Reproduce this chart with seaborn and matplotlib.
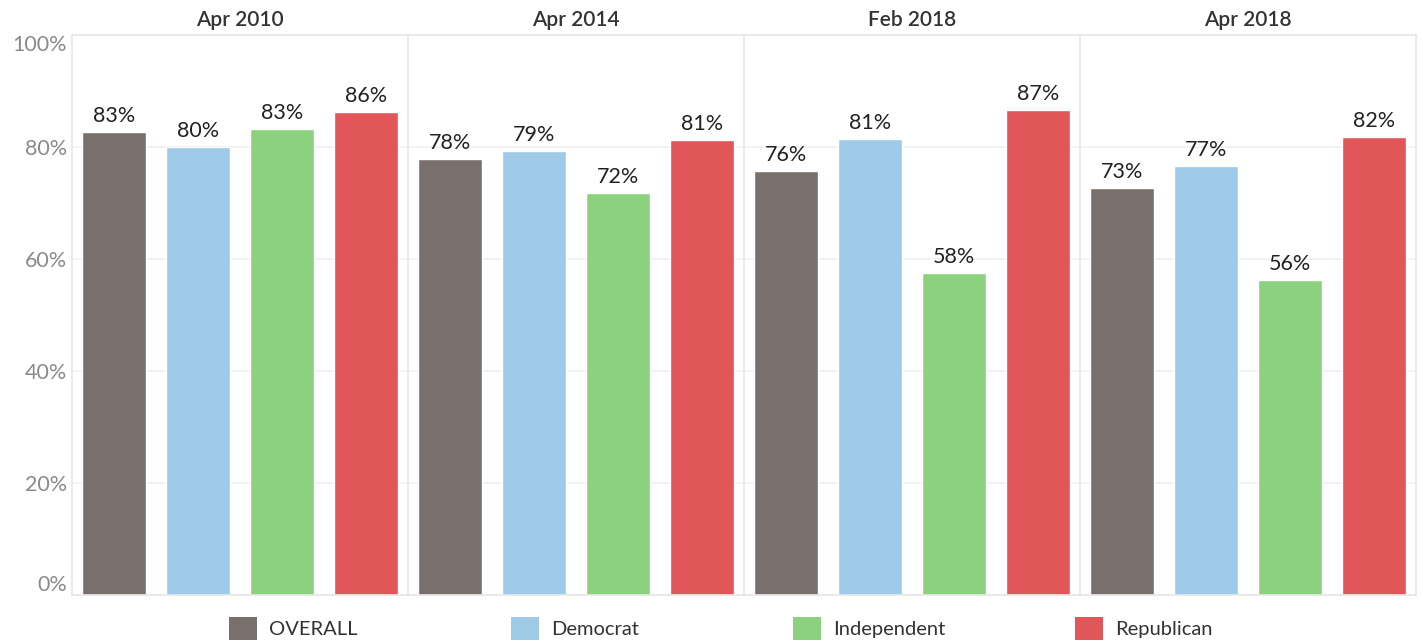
import numpy as np
import pandas as pd
import matplotlib
matplotlib.use("Agg")
import matplotlib.pyplot as plt
import seaborn as sns
from matplotlib.patches import Patch

sns.set_style("white")
plt.rcParams['font.family'] = ['Lato', 'DejaVu Sans']

# Data
periods = ['Apr 2010', 'Apr 2014', 'Feb 2018', 'Apr 2018']
groups = ['OVERALL', 'Democrat', 'Independent', 'Republican']
overall = [82.7, 77.9, 75.7, 72.7]
democrat = [80.0, 79.3, 81.4, 76.6]
independent = [83.3, 71.8, 57.5, 56.3]
republican = [86.3, 81.2, 86.6, 81.8]

colors = ['#79706e', '#a0cbe8', '#8cd17d', '#e15759']
palette = dict(zip(groups, colors))

rows = []
for i, p in enumerate(periods):
    for g, vals in zip(groups, [overall, democrat, independent, republican]):
        rows.append({'Period': p, 'Group': g, 'Value': vals[i]})
df = pd.DataFrame(rows)

fig, axes = plt.subplots(1, 4, figsize=(14.23, 6.41), dpi=100, sharey=True)
fig.subplots_adjust(left=0.0506, right=0.995, top=0.945, bottom=0.072, wspace=0)

border = '#e6e6e6'
for i, (ax, p) in enumerate(zip(axes, periods)):
    sub = df[df['Period'] == p]
    sns.barplot(data=sub, x='Group', y='Value', hue='Group', order=groups,
                hue_order=groups, palette=palette, width=0.77, ax=ax,
                legend=False, dodge=False, saturation=1)
    for bar, v in zip(ax.patches, sub['Value']):
        ax.text(bar.get_x() + bar.get_width() / 2, v + 1.1, f'{round(v)}%',
                ha='center', va='bottom', fontsize=15.5, color='#222222')
    ax.set_ylim(0, 100)
    ax.set_xlim(-0.5, 3.5)
    ax.set_xlabel('')
    ax.set_ylabel('')
    ax.set_xticks([])
    ax.set_title(p, fontsize=15, color='#333333', fontweight='semibold', pad=7)
    ax.set_yticks([0, 20, 40, 60, 80, 100])
    ax.yaxis.grid(True, color='#f0f0f0', linewidth=1.2)
    ax.set_axisbelow(True)
    for s in ['top', 'bottom', 'left', 'right']:
        ax.spines[s].set_color(border)
        ax.spines[s].set_linewidth(1.2)
    ax.spines['right'].set_visible(i == 3)
    ax.tick_params(axis='y', length=0)

axes[0].set_yticklabels([f'{t}%' for t in [0, 20, 40, 60, 80, 100]],
                        fontsize=15.5, color='#8a8a8a')
ylabels = axes[0].get_yticklabels()
ylabels[0].set_va('bottom')
ylabels[-1].set_va('top')

# evenly spaced legend entries along the bottom
leg_start = 229 / 1423
leg_step = 282 / 1423
for i, (g, c) in enumerate(zip(groups, colors)):
    leg = fig.legend([Patch(facecolor=c, edgecolor='none')], [g],
                     loc='center left', bbox_to_anchor=(leg_start + i * leg_step, 0.02),
                     frameon=False, fontsize=14.5, handlelength=1.4,
                     handleheight=1.4, handletextpad=0.6, borderpad=0,
                     borderaxespad=0, labelcolor='#333333')

plt.savefig('out.png', dpi=100)
